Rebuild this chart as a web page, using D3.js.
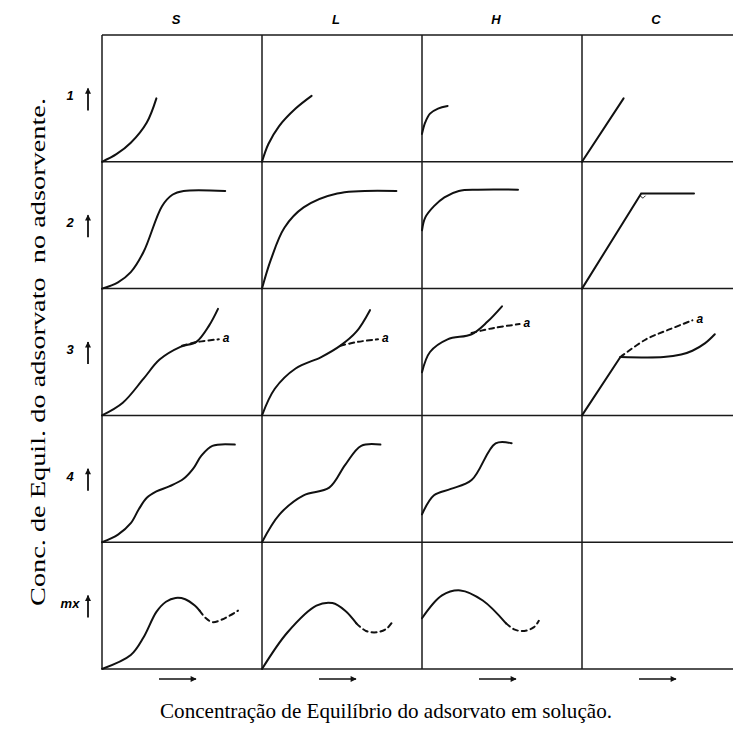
<!DOCTYPE html>
<html>
<head>
<meta charset="utf-8">
<script src="https://cdn.jsdelivr.net/npm/d3@7"></script>
<style>
  body { margin: 0; background: #fff; }
  svg { display: block; }
</style>
</head>
<body>
<svg width="733" height="729"></svg>
<script>
// isotherm classes (columns) and sub-groups (rows)
const columns = ["S", "L", "H", "C"];
const rows = ["1", "2", "3", "4", "mx"];

// curve points, in % of the cell (x right, y up)
const S1 = [[0,0],[9,6],[18,15],[28,31],[34,50]];
const L1 = [[0,0],[4,14],[10.6,28],[21,42],[31,52]];
const H1 = [[0,22],[2,31],[5,38],[10,42],[16,44]];
const C1 = [[0,0],[26,50]];

const S2 = [[0,0],[10,5],[18,13],[26,29],[37.5,65],[44,74],[51,77],[77,77]];
const L2 = [[0,0],[5.6,23],[14,48],[26,64],[47,75],[84,77]];
const H2 = [[0,46],[2,56],[7.5,65],[14,72],[23,77],[35,78],[60,78]];
const C2 = [[0,0],[37,75],[70,75]];
const C2dot = [[36.5,73],[38,71.5],[39.5,73]];

const S3 = [[0,0],[13,10],[26,29],[36,44],[49,54],[59,58],[67,71],[72.5,84]];
const S3a = [[50,55],[60,58],[73,60]];
const L3 = [[0,0],[8,21],[21,37],[37,46],[49,55],[59,66],[67.5,83]];
const L3a = [[49,55],[60,58],[72.5,60]];
const H3 = [[0,34],[5,50],[16,60],[31,64],[41,74],[50,86]];
const H3a = [[31,65],[45,69],[61,72]];
const C3 = [[0,0],[24,46]];
const C3b = [[24,46],[51,46],[62,48],[69,51],[77,57],[83,64]];
const C3a = [[24,46],[40,60],[55,68],[69,75]];

const S4 = [[0,0],[10,6],[18,15],[23,26],[28,35],[34,40],[42,44],[51,50],[57,58],[62,68],[69,76],[83,77]];
const L4 = [[0,0],[11,22],[26,37],[42,43],[52,61],[62,76],[74,77]];
const H4 = [[0,22],[7.5,37],[18,42],[31,49],[46,78],[56,78]];

const S5 = [[0,0],[18,11],[26,25],[34,45],[40,53],[46,56],[52,55],[58,50],[61,46]];
const S5a = [[61,46],[65,40],[69,37],[75,39],[85,46]];
const L5 = [[0,0],[16,29],[34,50],[44,52],[52,46],[59,36]];
const L5a = [[59,36],[65,30],[72,29],[78,32],[82,38]];
const H5 = [[0,40],[12.5,58],[24,62],[38,54],[52.5,36]];
const H5a = [[52.5,36],[58,31],[64,30],[70,33],[73,38]];

const curves = [
  {col:"S", row:"1", pts:S1}, {col:"L", row:"1", pts:L1}, {col:"H", row:"1", pts:H1}, {col:"C", row:"1", pts:C1, straight:true},
  {col:"S", row:"2", pts:S2}, {col:"L", row:"2", pts:L2}, {col:"H", row:"2", pts:H2}, {col:"C", row:"2", pts:C2, straight:true},
  {col:"C", row:"2", pts:C2dot, thin:true},
  {col:"S", row:"3", pts:S3}, {col:"S", row:"3", pts:S3a, dash:true, label:"a"},
  {col:"L", row:"3", pts:L3}, {col:"L", row:"3", pts:L3a, dash:true, label:"a"},
  {col:"H", row:"3", pts:H3}, {col:"H", row:"3", pts:H3a, dash:true, label:"a"},
  {col:"C", row:"3", pts:C3, straight:true}, {col:"C", row:"3", pts:C3b},
  {col:"C", row:"3", pts:C3a, dash:true, label:"a"},
  {col:"S", row:"4", pts:S4}, {col:"L", row:"4", pts:L4}, {col:"H", row:"4", pts:H4},
  {col:"S", row:"mx", pts:S5}, {col:"S", row:"mx", pts:S5a, dash:true},
  {col:"L", row:"mx", pts:L5}, {col:"L", row:"mx", pts:L5a, dash:true},
  {col:"H", row:"mx", pts:H5}, {col:"H", row:"mx", pts:H5a, dash:true}
];

const svg = d3.select("svg");

const x = d3.scaleBand().domain(columns).range([102, 742]);
const y = d3.scaleBand().domain(rows).range([35, 669]);
const cx = d3.scaleLinear().domain([0, 100]).range([0, x.bandwidth()]);
const cy = d3.scaleLinear().domain([0, 100]).range([y.bandwidth(), 0]);

const defs = svg.append("defs");
defs.append("marker")
  .attr("id", "head")
  .attr("viewBox", "0 0 10 10")
  .attr("refX", 9).attr("refY", 5)
  .attr("markerWidth", 8).attr("markerHeight", 6)
  .attr("markerUnits", "userSpaceOnUse")
  .attr("orient", "auto")
  .append("path")
  .attr("d", "M0,0 L10,5 L0,10 Z")
  .attr("fill", "#111");

// grid
const grid = svg.append("g").attr("stroke", "#1a1a1a").attr("stroke-width", 1.5);
const hLines = rows.map(r => y(r)).concat([y.range()[1]]);
const vLines = columns.map(c => x(c)).concat([x.range()[1]]);
grid.selectAll(".h").data(hLines).enter().append("line")
  .attr("x1", x.range()[0]).attr("x2", x.range()[1])
  .attr("y1", d => d).attr("y2", d => d);
grid.selectAll(".v").data(vLines).enter().append("line")
  .attr("y1", y.range()[0]).attr("y2", y.range()[1])
  .attr("x1", d => d).attr("x2", d => d);

// column headers
svg.selectAll(".colhead").data(columns).enter().append("text")
  .attr("x", d => x(d) + x.bandwidth() / 2 - 6)
  .attr("y", 24)
  .attr("text-anchor", "middle")
  .style("font", "italic bold 13px 'Liberation Sans', sans-serif")
  .text(d => d);

// row labels + up arrows
svg.selectAll(".rowhead").data(rows).enter().append("text")
  .attr("x", 70)
  .attr("y", d => y(d) + y.bandwidth() / 2 + 2)
  .attr("text-anchor", "middle")
  .style("font", "italic bold 13px 'Liberation Sans', sans-serif")
  .text(d => d);
svg.selectAll(".uparrow").data(rows).enter().append("line")
  .attr("x1", 88).attr("x2", 88)
  .attr("y1", d => y(d) + y.bandwidth() / 2 + 12)
  .attr("y2", d => y(d) + y.bandwidth() / 2 - 10)
  .attr("stroke", "#111").attr("stroke-width", 1.8)
  .attr("marker-end", "url(#head)");

// right arrows under columns
svg.selectAll(".rarrow").data(columns).enter().append("line")
  .attr("x1", d => x(d) + 57).attr("x2", d => x(d) + 94)
  .attr("y1", 679).attr("y2", 679)
  .attr("stroke", "#111").attr("stroke-width", 1.6)
  .attr("marker-end", "url(#head)");

// curves
const smooth = d3.line().curve(d3.curveCatmullRom.alpha(0.5));
const straight = d3.line();
const cells = svg.append("g");
curves.forEach(c => {
  const g = cells.append("g").attr("transform", `translate(${x(c.col)},${y(c.row)})`);
  const gen = c.straight ? straight : smooth;
  g.append("path")
    .attr("d", gen.x(d => cx(d[0])).y(d => cy(d[1]))(c.pts))
    .attr("fill", "none")
    .attr("stroke", "#111")
    .attr("stroke-width", c.thin ? 1 : 2)
    .attr("stroke-dasharray", c.dash ? "5,4" : null)
    .attr("stroke-linecap", "round");
  if (c.label) {
    const last = c.pts[c.pts.length - 1];
    g.append("text")
      .attr("x", cx(last[0]) + 4)
      .attr("y", cy(last[1]) + 3)
      .style("font", "italic bold 12px 'Liberation Sans', sans-serif")
      .text(c.label);
  }
});

// axis titles
svg.append("text")
  .attr("transform", "translate(45,352) rotate(-90)")
  .attr("text-anchor", "middle")
  .attr("textLength", 508)
  .attr("lengthAdjust", "spacingAndGlyphs")
  .style("font", "21px 'Liberation Serif', serif")
  .style("white-space", "pre")
  .text("Conc. de Equil. do adsorvato  no adsorvente.");

svg.append("text")
  .attr("x", 386).attr("y", 718)
  .attr("text-anchor", "middle")
  .attr("textLength", 452)
  .attr("lengthAdjust", "spacingAndGlyphs")
  .style("font", "21px 'Liberation Serif', serif")
  .text("Concentração de Equilíbrio do adsorvato em solução.");
</script>
</body>
</html>
